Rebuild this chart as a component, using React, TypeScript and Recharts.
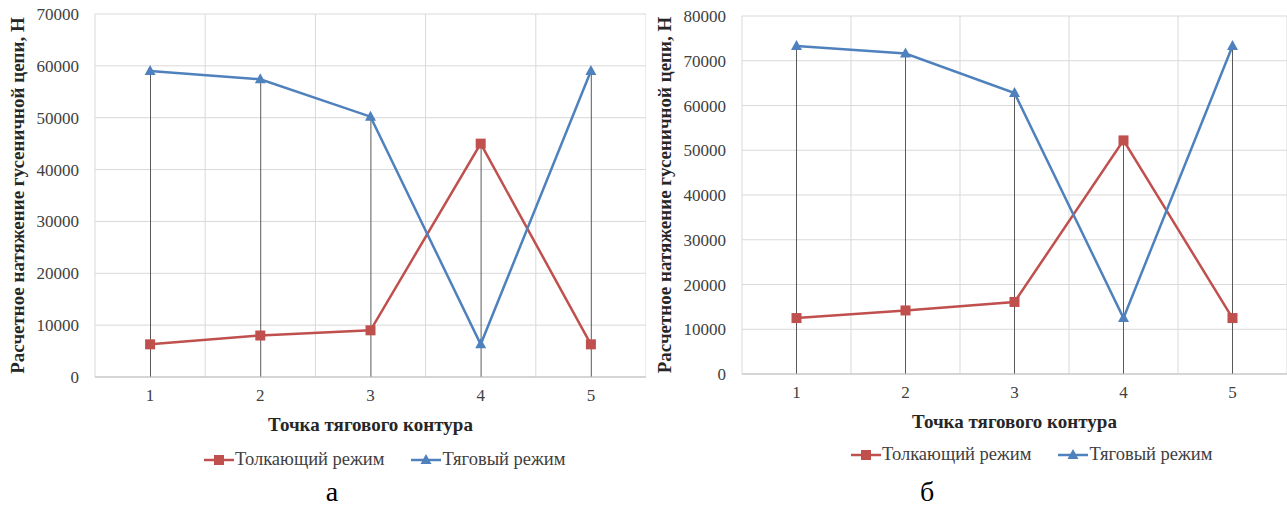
import React from 'react';
import { ComposedChart, Line, Bar, XAxis, YAxis, CartesianGrid, Legend } from 'recharts';

// Точки тягового контура
const points = ['1', '2', '3', '4', '5'];

// а) натяжение, Н
const pushA = [6300, 8000, 9000, 45000, 6300];
const pullA = [59000, 57400, 50200, 6300, 59000];
const ticksA = [0, 10000, 20000, 30000, 40000, 50000, 60000, 70000];

// б) натяжение, Н
const pushB = [12500, 14200, 16100, 52200, 12500];
const pullB = [73300, 71600, 62800, 12500, 73300];
const ticksB = [0, 10000, 20000, 30000, 40000, 50000, 60000, 70000, 80000];

const pushName = 'Толкающий режим';
const pullName = 'Тяговый режим';
const xTitle = 'Точка тягового контура';
const yTitle = 'Расчетное натяжение гусеничной цепи, Н';

const FONT = "'Liberation Serif', serif";
const RED = '#C0504D';
const BLUE = '#4F81BD';
const TEXT = '#404040';

const buildRows = (push: number[], pull: number[]) =>
  points.map((p, i) => ({
    point: p,
    push: push[i],
    pull: pull[i],
    drop: Math.max(push[i], pull[i]),
  }));

// vertical gridlines sit on category boundaries, like Excel
const bandLines = ({ offset }: any) =>
  Array.from({ length: points.length + 1 }, (_, i) => offset.left + (i * offset.width) / points.length);

const SquareDot = (p: any) =>
  p.cx == null ? null : (
    <rect key={`sq-${p.index}`} x={p.cx - 5} y={p.cy - 5} width={10} height={10} fill={RED} />
  );

const TriangleDot = (p: any) =>
  p.cx == null ? null : (
    <polygon
      key={`tr-${p.index}`}
      points={`${p.cx},${p.cy - 6} ${p.cx - 5.5},${p.cy + 4} ${p.cx + 5.5},${p.cy + 4}`}
      fill={BLUE}
    />
  );

const LegendContent = () => (
  <div style={{ display: 'flex', alignItems: 'center', fontFamily: FONT, fontSize: 18.5, color: TEXT, whiteSpace: 'nowrap' }}>
    <svg width={30} height={14} style={{ marginRight: 1 }}>
      <line x1={0} y1={7} x2={30} y2={7} stroke={RED} strokeWidth={2.5} />
      <rect x={10} y={2} width={10} height={10} fill={RED} />
    </svg>
    <span>{pushName}</span>
    <svg width={30} height={14} style={{ marginLeft: 27, marginRight: 1 }}>
      <line x1={0} y1={7} x2={30} y2={7} stroke={BLUE} strokeWidth={2.5} />
      <polygon points="15,1 9.5,11 20.5,11" fill={BLUE} />
    </svg>
    <span>{pullName}</span>
  </div>
);

interface PanelProps {
  push: number[];
  pull: number[];
  ticks: number[];
  left: number;
  width: number;
  top: number;
  bottom: number;
  legendTop: number;
  caption: string;
  captionX: number;
}

const Panel = ({ push, pull, ticks, left, width, top, bottom, legendTop, caption, captionX }: PanelProps) => {
  const data = buildRows(push, pull);
  return (
    <div style={{ position: 'absolute', left, top: 0, width, height: 509 }}>
      <ComposedChart
        width={width}
        height={509}
        data={data}
        margin={{ top, right: 0, left: 0, bottom: 509 - bottom - 60 }}
        style={{ fontFamily: FONT }}
      >
        <CartesianGrid stroke="#d9d9d9" verticalCoordinatesGenerator={bandLines} />
        <XAxis
          dataKey="point"
          height={60}
          axisLine={{ stroke: '#bfbfbf' }}
          tickLine={false}
          tickMargin={6}
          tick={{ fill: TEXT, fontSize: 17, style: { fontFamily: FONT } }}
          label={(props: any) => {
            const vb = props.viewBox;
            return (
              <text
                x={vb.x + vb.width / 2}
                y={vb.y + 47}
                dy="0.35em"
                textAnchor="middle"
                style={{ fontFamily: FONT }}
                fontSize={19}
                fontWeight="bold"
                fill="#262626"
              >
                {xTitle}
              </text>
            );
          }}
        />
        <YAxis
          width={95}
          domain={[0, ticks[ticks.length - 1]]}
          ticks={ticks}
          interval={0}
          axisLine={false}
          tickLine={false}
          tickMargin={10}
          tick={{ fill: TEXT, fontSize: 17, style: { fontFamily: FONT } }}
          label={(props: any) => {
            const vb = props.viewBox;
            const cx = 17;
            const cy = vb.y + vb.height / 2;
            return (
              <text
                x={cx}
                y={cy}
                dy="0.35em"
                transform={`rotate(-90, ${cx}, ${cy})`}
                textAnchor="middle"
                style={{ fontFamily: FONT }}
                fontSize={19}
                fontWeight="bold"
                fill="#262626"
              >
                {yTitle}
              </text>
            );
          }}
        />
        <Bar dataKey="drop" barSize={1} fill="#595959" legendType="none" isAnimationActive={false} />
        <Line
          dataKey="push"
          name={pushName}
          stroke={RED}
          strokeWidth={2.5}
          dot={SquareDot}
          activeDot={false}
          isAnimationActive={false}
        />
        <Line
          dataKey="pull"
          name={pullName}
          stroke={BLUE}
          strokeWidth={2.5}
          dot={TriangleDot}
          activeDot={false}
          isAnimationActive={false}
        />
        <Legend
          layout="horizontal"
          verticalAlign="middle"
          content={<LegendContent />}
          wrapperStyle={{ top: legendTop, left: 204, width: 'auto' }}
        />
      </ComposedChart>
      <div
        style={{
          position: 'absolute',
          left: captionX - left - 20,
          width: 40,
          top: 476,
          textAlign: 'center',
          fontFamily: FONT,
          fontSize: 28,
          color: '#000',
        }}
      >
        {caption}
      </div>
    </div>
  );
};

export default function App() {
  return (
    <div style={{ position: 'absolute', left: 0, top: 0, width: 1287, height: 509, background: '#fff' }}>
      <Panel push={pushA} pull={pullA} ticks={ticksA} left={0} width={646} top={14} bottom={377} legendTop={449} caption="а" captionX={332} />
      <Panel push={pushB} pull={pullB} ticks={ticksB} left={647} width={640} top={16} bottom={374} legendTop={444} caption="б" captionX={927} />
    </div>
  );
}
